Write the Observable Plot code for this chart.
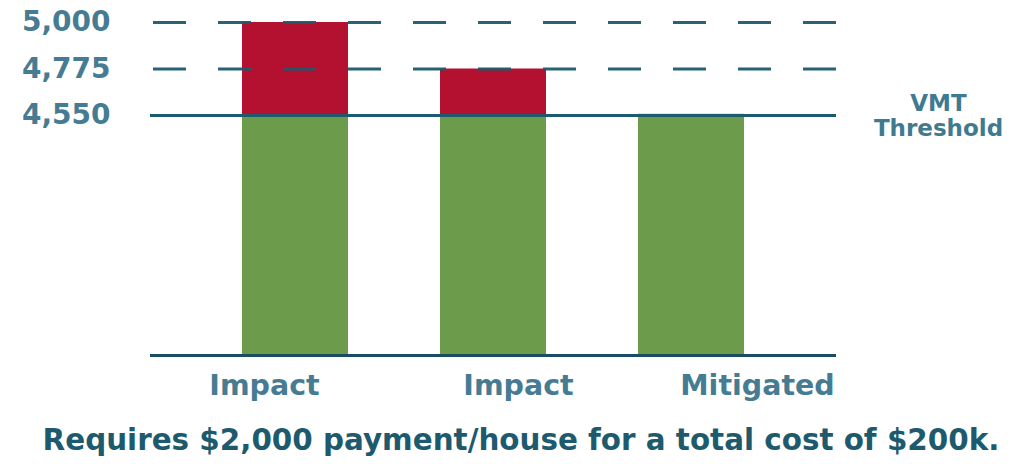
<!DOCTYPE html>
<html>
<head>
<meta charset="utf-8">
<script src="https://cdn.jsdelivr.net/npm/d3@7"></script>
<script src="https://cdn.jsdelivr.net/npm/@observablehq/plot@0.6"></script>
<style>
  html, body { margin: 0; padding: 0; background: #fff; }
  #chart { width: 1026px; height: 464px; position: relative; overflow: hidden; }
  #caption {
    font-family: "DejaVu Sans", "Liberation Sans", Arial, sans-serif;
    font-weight: bold;
    font-size: 29.4px;
    color: #1e5a6e;
    text-align: center;
    width: 1026px;
    line-height: 44px;
    margin-top: -2px;
    padding-left: 16px;
    box-sizing: border-box;
    white-space: nowrap;
  }
</style>
</head>
<body>
<div id="chart"></div>
<script>
// ---- data ----
const categories = ["Impact A", "Impact B", "Mitigated"];
const barLabels = ["Impact", "Impact", "Mitigated"];
const totals = [5000, 4775, 4556];
const threshold = 4550;
const tickValues = [4550, 4775, 5000];
const dashedLevels = [5000, 4775];
const axisMin = 3389;
const captionText = "Requires $2,000 payment/house for a total cost of $200k.";
const thresholdLabel = "VMT\nThreshold";

// ---- derived tables ----
const bars = categories.map((c, i) => ({cat: c, label: barLabels[i], total: totals[i]}));

const GREEN = "#6b9b4b";
const RED = "#b3112f";
const LINE = "#1c5a6e";
const LABEL = "#467c93";
const FONT = "'DejaVu Sans', 'Liberation Sans', Arial, sans-serif";

const labelOffsets = [-31, 25, 66];

const plot = Plot.plot({
  width: 1026,
  height: 420,
  marginLeft: 150,
  marginRight: 190,
  marginTop: 22,
  marginBottom: 65,
  style: {fontFamily: FONT, background: "#fff"},
  x: {domain: categories, padding: 0.4646, axis: null},
  y: {domain: [axisMin, 5000], axis: null},
  marks: [
    // green base
    Plot.barY(bars, {x: "cat", y1: axisMin, y2: d => Math.min(d.total, threshold + 6), fill: GREEN}),
    // red excess
    Plot.barY(bars.filter(d => d.total > threshold + 10), {x: "cat", y1: threshold, y2: "total", fill: RED}),
    // dashed levels
    Plot.ruleY(dashedLevels, {stroke: LINE, strokeWidth: 3, strokeDasharray: "33,32", strokeDashoffset: -3, strokeOpacity: 0.95}),
    // threshold line
    Plot.ruleY([threshold], {stroke: LINE, strokeWidth: 3}),
    // baseline
    Plot.ruleY([axisMin], {stroke: "#1a4d62", strokeWidth: 3}),
    // y tick labels
    Plot.axisY({ticks: tickValues, tickFormat: d3.format(","), tickSize: 0, tickPadding: 40,
      fontSize: 28, fontWeight: "bold", color: LABEL, anchor: "left", label: null}),
    // threshold label
    Plot.text([threshold], {y: d => d, text: () => thresholdLabel, frameAnchor: "right", dx: 102, dy: 0,
      textAnchor: "middle", lineAnchor: "middle", lineHeight: 1.1, fontSize: 23, fontWeight: "bold", fill: "#3e7a90"}),
    // category labels
    ...bars.map((d, i) => Plot.text([d], {x: "cat", y: axisMin, text: "label", dy: 30, dx: labelOffsets[i],
      fontSize: 28.5, fontWeight: "bold", fill: LABEL, textAnchor: "middle", lineAnchor: "middle"}))
  ]
});
document.getElementById("chart").appendChild(plot);
const cap = document.createElement("div");
cap.id = "caption";
cap.textContent = captionText;
document.getElementById("chart").appendChild(cap);
</script>
</body>
</html>
